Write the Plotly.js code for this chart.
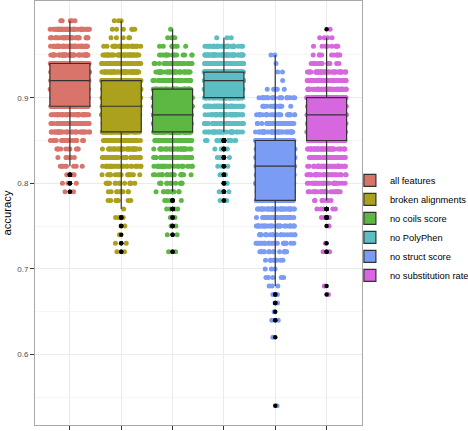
<!DOCTYPE html>
<html>
<head>
<meta charset="utf-8">
<script src="https://cdn.plot.ly/plotly-3.0.1.min.js"></script>
<style>
html,body{margin:0;padding:0;background:#ffffff;}
#chart{width:468px;height:431px;}
</style>
</head>
<body>
<div id="chart"></div>
<script>
// ---- data ----
const categories = ['all features', 'broken alignments', 'no coils score',
                    'no PolyPhen', 'no struct score', 'no substitution rate'];

const boxColors = ['#D9746B', '#ACA11C', '#5CB843', '#5CBDC2', '#7B9CF4', '#D767DE'];

// accuracy levels observed (values are discrete in steps of 0.01)
const accuracyLevels = [
  0.54, 0.55, 0.56, 0.57, 0.58, 0.59, 0.60, 0.61, 0.62, 0.63,
  0.64, 0.65, 0.66, 0.67, 0.68, 0.69, 0.70, 0.71, 0.72, 0.73,
  0.74, 0.75, 0.76, 0.77, 0.78, 0.79, 0.80, 0.81, 0.82, 0.83,
  0.84, 0.85, 0.86, 0.87, 0.88, 0.89, 0.90, 0.91, 0.92, 0.93,
  0.94, 0.95, 0.96, 0.97, 0.98, 0.99
];

// number of runs at each accuracy level (same order as accuracyLevels)
const countsAllFeatures = [
  0, 0, 0, 0, 0, 0, 0, 0, 0, 0,
  0, 0, 0, 0, 0, 0, 0, 0, 0, 0,
  0, 0, 0, 0, 0, 2, 3, 4, 8, 6,
  10, 20, 35, 45, 45, 65, 60, 60, 70, 70,
  70, 50, 50, 35, 40, 5
];
const countsBrokenAlignments = [
  0, 0, 0, 0, 0, 0, 0, 0, 0, 0,
  0, 0, 0, 0, 0, 0, 0, 0, 2, 2,
  1, 2, 3, 1, 8, 10, 15, 15, 25, 30,
  35, 40, 55, 60, 60, 60, 60, 55, 70, 60,
  55, 40, 25, 5, 6, 3
];
const countsNoCoilsScore = [
  0, 0, 0, 0, 0, 0, 0, 0, 0, 0,
  0, 0, 0, 0, 0, 0, 0, 0, 2, 0,
  2, 3, 2, 4, 4, 12, 14, 18, 25, 30,
  35, 40, 75, 80, 85, 80, 80, 81, 45, 40,
  35, 15, 8, 4, 1, 0
];
const countsNoPolyPhen = [
  0, 0, 0, 0, 0, 0, 0, 0, 0, 0,
  0, 0, 0, 0, 0, 0, 0, 0, 0, 0,
  0, 0, 0, 0, 2, 3, 3, 3, 3, 4,
  6, 15, 30, 40, 50, 60, 120, 110, 165, 163,
  70, 60, 30, 3, 0, 0
];
const countsNoStructScore = [
  1, 0, 0, 0, 0, 0, 0, 0, 1, 0,
  2, 1, 2, 2, 3, 5, 3, 8, 15, 20,
  20, 30, 35, 40, 55, 55, 55, 55, 75, 80,
  65, 85, 40, 30, 25, 15, 20, 5, 1, 2,
  1, 2, 0, 0, 0, 0
];
const countsNoSubstitutionRate = [
  0, 0, 0, 0, 0, 0, 0, 0, 0, 0,
  0, 0, 0, 1, 1, 0, 0, 0, 2, 1,
  0, 1, 5, 5, 8, 20, 25, 30, 40, 40,
  45, 80, 80, 80, 100, 95, 96, 60, 55, 45,
  12, 10, 8, 4, 1, 0
];

const yTickVals = [0.6, 0.7, 0.8, 0.9];
const yTickText = ['0.6', '0.7', '0.8', '0.9'];
const yMinorTickVals = [0.55, 0.65, 0.75, 0.85, 0.95];

// ---- build traces ----
const allCounts = [countsAllFeatures, countsBrokenAlignments, countsNoCoilsScore,
                   countsNoPolyPhen, countsNoStructScore, countsNoSubstitutionRate];

function expand(counts) {
  const ys = [];
  counts.forEach(function (c, i) {
    for (let k = 0; k < c; k++) ys.push(accuracyLevels[i]);
  });
  return ys;
}

const samples = allCounts.map(expand);

const jitterTraces = categories.map(function (cat, i) {
  return {
    type: 'box',
    name: cat,
    x0: cat,
    y: samples[i],
    boxpoints: 'all',
    jitter: 1,
    pointpos: 0,
    width: 0.77,
    fillcolor: 'rgba(0,0,0,0)',
    line: {width: 0, color: 'rgba(0,0,0,0)'},
    whiskerwidth: 0,
    marker: {color: boxColors[i], size: 5, opacity: 1},
    showlegend: false,
    hoverinfo: 'skip'
  };
});

const boxTraces = categories.map(function (cat, i) {
  return {
    type: 'box',
    name: cat,
    x0: cat,
    y: samples[i],
    boxpoints: 'outliers',
    jitter: 0,
    pointpos: 0,
    width: 0.78,
    fillcolor: boxColors[i],
    line: {width: 1.2, color: '#333333'},
    whiskerwidth: 0,
    marker: {color: '#000000', size: 4.5},
    showlegend: true,
    hoverinfo: 'skip'
  };
});

const layout = {
  width: 468,
  height: 431,
  margin: {l: 35, r: 106, t: 1, b: 6, autoexpand: false},
  paper_bgcolor: '#ffffff',
  plot_bgcolor: '#ffffff',
  boxmode: 'overlay',
  font: {family: 'Liberation Sans, Arial, sans-serif', color: '#000000'},
  xaxis: {
    type: 'category',
    categoryorder: 'array',
    categoryarray: categories,
    range: [-0.68, 5.69],
    showticklabels: false,
    ticks: 'outside',
    ticklen: 4,
    tickwidth: 1,
    tickcolor: '#333333',
    showgrid: true,
    gridcolor: '#ebebeb',
    gridwidth: 1,
    showline: true,
    mirror: true,
    linecolor: '#a8a8a8',
    linewidth: 1,
    zeroline: false,
    fixedrange: true
  },
  yaxis: {
    range: [0.5176, 1.013],
    tickmode: 'array',
    tickvals: yTickVals,
    ticktext: yTickText,
    ticks: 'outside',
    ticklen: 4,
    tickwidth: 1,
    tickcolor: '#333333',
    tickfont: {size: 8, color: '#4d4d4d'},
    showgrid: true,
    gridcolor: '#ebebeb',
    gridwidth: 1,
    minor: {tickmode: 'array', tickvals: yMinorTickVals, showgrid: true,
            gridcolor: '#f6f6f6', ticks: ''},
    showline: true,
    mirror: true,
    linecolor: '#a8a8a8',
    linewidth: 1,
    zeroline: false,
    fixedrange: true,
    title: {text: 'accuracy', font: {size: 11.3, color: '#000000'}, standoff: 3}
  },
  showlegend: true,
  legend: {
    x: 0.963, xanchor: 'left',
    y: 0.465, yanchor: 'middle',
    font: {size: 9.3, color: '#000000'},
    bgcolor: 'rgba(0,0,0,0)',
    borderwidth: 0,
    itemwidth: 30,
    tracegroupgap: 0,
    traceorder: 'normal'
  }
};

Plotly.newPlot('chart', jitterTraces.concat(boxTraces), layout,
               {staticPlot: true, displayModeBar: false});
</script>
</body>
</html>
